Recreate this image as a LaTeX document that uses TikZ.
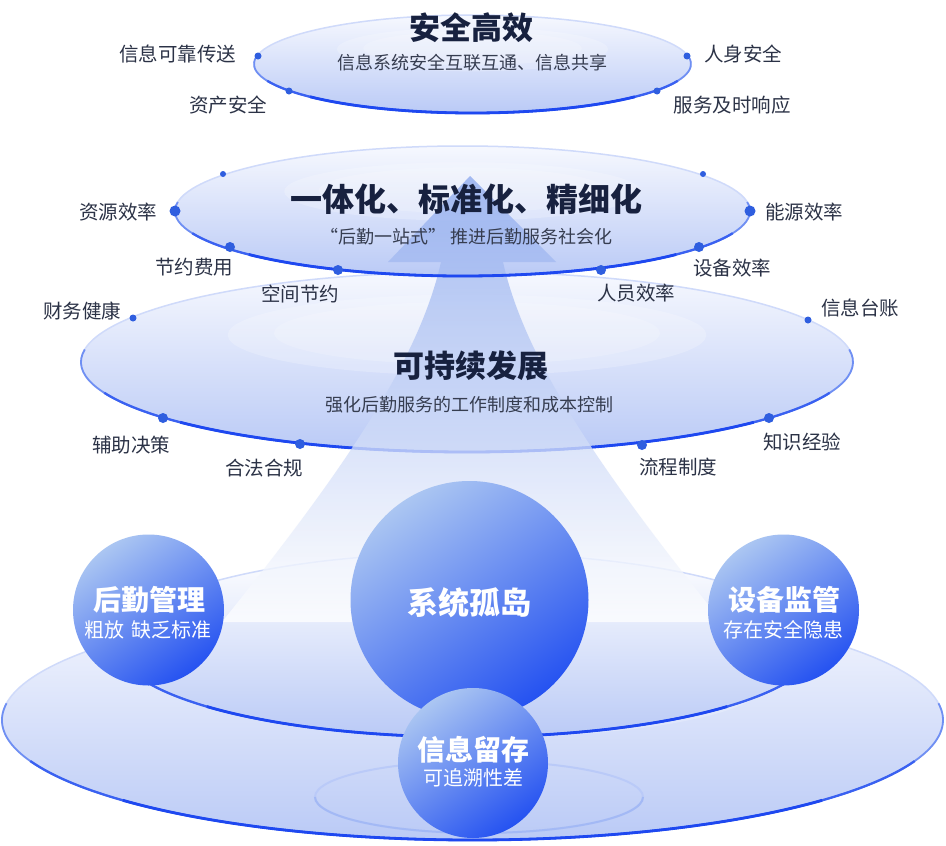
\documentclass[tikz,border=0pt]{standalone}
\usepackage{fontspec}
\setmainfont{Noto Sans CJK SC}
\usetikzlibrary{shapes.geometric}

\definecolor{rimDeep}{HTML}{1E48F0}
\definecolor{rimMid}{HTML}{6F8FF3}
\definecolor{rimPale}{HTML}{CFDAFA}
\definecolor{dotblue}{HTML}{2F5EDF}
\definecolor{plateTop}{HTML}{F6F8FE}
\definecolor{plateBot}{HTML}{BACAF6}
\definecolor{titlecol}{HTML}{17213F}
\definecolor{labelcol}{HTML}{2B3246}
\definecolor{subcol}{HTML}{363D50}
\definecolor{sphLight}{HTML}{ABC6F2}
\definecolor{sphMid}{HTML}{6388F0}
\definecolor{sphDark}{HTML}{2552F1}
\definecolor{beamTop}{HTML}{8EAAEE}
\definecolor{beamMid}{HTML}{BFCFF6}
\definecolor{ringLine}{HTML}{A3B9F5}

\newcommand{\platefill}[4]{%
  \shade[top color=plateTop, bottom color=plateBot] (#1,#2) ellipse [x radius=#3pt, y radius=#4pt];
  \fill[white, opacity=0.22] (#1,{#2+0.3*#4}) ellipse [x radius={0.62*#3pt}, y radius={0.45*#4pt}];
  \fill[white, opacity=0.18] (#1,{#2+0.32*#4}) ellipse [x radius={0.5*#3pt}, y radius={0.35*#4pt}];
}
\newcommand{\platerim}[4]{%
  \draw[rimPale, line width=1.5pt] (#1,#2) ellipse [x radius=#3pt, y radius=#4pt];
  \draw[rimMid, line width=1.8pt] (#1,#2) ++(172:#3pt and #4pt) arc [start angle=172, end angle=368, x radius=#3pt, y radius=#4pt];
  \draw[rimDeep!65!rimMid, line width=2.3pt] (#1,#2) ++(200:#3pt and #4pt) arc [start angle=200, end angle=340, x radius=#3pt, y radius=#4pt];
  \draw[rimDeep, line width=2.8pt] (#1,#2) ++(222:#3pt and #4pt) arc [start angle=222, end angle=318, x radius=#3pt, y radius=#4pt];
}

\begin{document}
\begin{tikzpicture}[x=1pt,y=1pt,
  ttl/.style={inner sep=0pt, text=titlecol, font=\fontsize{31}{31}\selectfont\bfseries},
  subt/.style={inner sep=0pt, text=subcol, font=\fontsize{18}{18}\selectfont},
  lbl/.style={inner sep=0pt, text=labelcol, font=\fontsize{19.5}{20}\selectfont},
  sphere/.style={circle, inner sep=0pt, shade, top color=sphLight, middle color=sphMid, bottom color=sphDark, shading angle=35},
  sphttl/.style={inner sep=0pt, text=white, font=\fontsize{28}{28}\selectfont\bfseries},
  sphsub/.style={inner sep=0pt, text=white, font=\fontsize{20}{20}\selectfont},
  bigdot/.style={fill=dotblue},
]
\useasboundingbox (0,0) rectangle (946,-846);
\fill[white] (0,0) rectangle (946,-846);

% ---- base plates
\platefill{472.5}{-720}{470.5}{120}
\platerim{472.5}{-720}{470.5}{120}
\shade[top color=white, bottom color=plateBot] (467,-645) ellipse [x radius=350pt, y radius=92pt];
\platerim{467}{-645}{350}{92}
\draw[ringLine!75, line width=2pt] (479,-797) ellipse [x radius=164pt, y radius=36pt];
\draw[ringLine, line width=2pt] (479,-797) ++(180:164pt and 36pt) arc [start angle=180, end angle=360, x radius=164pt, y radius=36pt];

% ---- big plate
\platefill{467}{-362}{386}{90}
\platerim{467}{-362}{386}{90}

% ---- middle plate fill
\platefill{462.5}{-211}{287.5}{65}

% ---- arrow and beam
\shade[top color=beamTop, middle color=beamMid, bottom color=white, opacity=0.78]
  (470,-176) -- (556,-262) -- (503,-262)
  .. controls (525,-360) and (600,-470) .. (722,-622)
  -- (222,-622)
  .. controls (344,-470) and (419,-360) .. (441,-262)
  -- (388,-262) -- cycle;

% ---- middle plate rim
\platerim{462.5}{-211}{287.5}{65}

% ---- top plate
\platefill{472.5}{-64}{218.5}{49}
\platerim{472.5}{-64}{218.5}{49}

% ---- dots
\fill[bigdot] (258,-56) circle (3.5pt);
\fill[bigdot] (289,-91) circle (3.5pt);
\fill[bigdot] (687,-56) circle (3.5pt);
\fill[bigdot] (657,-91) circle (3.5pt);
\fill[bigdot] (223,-174) circle (3pt);
\fill[bigdot] (703,-174) circle (3pt);
\fill[bigdot] (175,-211) circle (5.5pt);
\fill[bigdot] (750,-211) circle (5.5pt);
\fill[bigdot] (230,-247) circle (5pt);
\fill[bigdot] (699,-247) circle (5pt);
\fill[bigdot] (338,-270) circle (5pt);
\fill[bigdot] (601,-270) circle (5pt);
\fill[bigdot] (133,-318) circle (3.5pt);
\fill[bigdot] (808,-320) circle (3.5pt);
\fill[bigdot] (163,-418) circle (5pt);
\fill[bigdot] (769,-418) circle (5pt);
\fill[bigdot] (300,-444) circle (5pt);
\fill[bigdot] (642,-445) circle (5pt);

% ---- spheres
\node[sphere, minimum size=238pt] (island) at (469.5,-600) {};
\node[sphere, minimum size=151pt] (logi) at (148.5,-610) {};
\node[sphere, minimum size=151pt] (equip) at (783.5,-610) {};
\node[sphere, minimum size=150pt] (info) at (473,-763) {};

% ---- titles
\node[ttl] (t1) at (471.5,-28) {安全高效};
\node[subt] (s1) at (472.5,-63) {信息系统安全互联互通、信息共享};
\node[ttl, font=\fontsize{32}{32}\selectfont\bfseries] (t2) at (466,-199) {一体化、标准化、精细化};
\node[subt] (s2) at (466.5,-237) {“后勤一站式”\ 推进后勤服务社会化};
\node[ttl] (t3) at (471,-366) {可持续发展};
\node[subt] (s3) at (469,-405) {强化后勤服务的工作制度和成本控制};

% ---- labels
\node[lbl] (l1) at (177.5,-54) {信息可靠传送};
\node[lbl] (l2) at (228,-105) {资产安全};
\node[lbl] (l3) at (743,-54) {人身安全};
\node[lbl] (l4) at (732,-105) {服务及时响应};
\node[lbl] (l5) at (118,-212) {资源效率};
\node[lbl] (l6) at (804,-212) {能源效率};
\node[lbl] (l7) at (194,-267) {节约费用};
\node[lbl] (l8) at (732,-268) {设备效率};
\node[lbl] (l9) at (300,-294) {空间节约};
\node[lbl] (l10) at (636,-293) {人员效率};
\node[lbl] (l11) at (82,-311) {财务健康};
\node[lbl] (l12) at (860,-308) {信息台账};
\node[lbl] (l13) at (131,-445) {辅助决策};
\node[lbl] (l14) at (802,-442) {知识经验};
\node[lbl] (l15) at (264,-468) {合法合规};
\node[lbl] (l16) at (678,-467) {流程制度};

% ---- sphere texts
\node[sphttl, font=\fontsize{31}{31}\selectfont\bfseries] (ti) at (469.5,-603) {系统孤岛};
\node[sphttl] (tl) at (149,-600) {后勤管理};
\node[sphsub] (sl) at (147.5,-630) {粗放\hspace{7pt}缺乏标准};
\node[sphttl] (te) at (784,-600) {设备监管};
\node[sphsub] (se) at (783,-630) {存在安全隐患};
\node[sphttl] (tn) at (473,-750) {信息留存};
\node[sphsub] (sn) at (473,-778) {可追溯性差};
\end{tikzpicture}
\end{document}
